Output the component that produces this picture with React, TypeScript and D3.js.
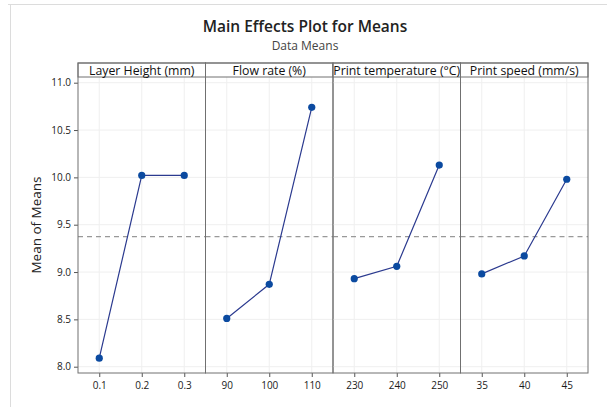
import React, { useEffect, useRef } from 'react';
import * as d3 from 'd3';

// factors and their levels
const factors = ['Layer Height (mm)', 'Flow rate (%)', 'Print temperature (°C)', 'Print speed (mm/s)'];
const levels = [
  ['0.1', '0.2', '0.3'],
  ['90', '100', '110'],
  ['230', '240', '250'],
  ['35', '40', '45'],
];
// mean of means per level
const layerHeight = [8.09, 10.02, 10.02];
const flowRate = [8.51, 8.87, 10.74];
const printTemp = [8.93, 9.06, 10.13];
const printSpeed = [8.98, 9.17, 9.98];
const grandMean = 9.375;
const yTicks = [8.0, 8.5, 9.0, 9.5, 10.0, 10.5, 11.0];

const series = [layerHeight, flowRate, printTemp, printSpeed];

function App() {
  const ref = useRef<SVGSVGElement>(null);

  useEffect(() => {
    const svg = d3.select(ref.current);
    svg.selectAll('*').remove();

    const W = 607, H = 407;
    const margin = { top: 63, right: 19, bottom: 34, left: 78 };
    const stripH = 14;
    const font = "'Open Sans', 'Noto Sans', sans-serif";

    // figure frame
    svg.append('rect').attr('width', W).attr('height', H).attr('fill', '#fff');
    svg.append('line').attr('x1', 8).attr('x2', W).attr('y1', 4.5).attr('y2', 4.5)
      .attr('stroke', '#dcdcdc');
    svg.append('line').attr('x1', 10.5).attr('x2', 10.5).attr('y1', 4).attr('y2', H)
      .attr('stroke', '#dcdcdc');

    // titles
    svg.append('text').attr('x', 305).attr('y', 32)
      .attr('text-anchor', 'middle').attr('font-family', font).attr('font-size', 15.5)
      .attr('font-weight', 600).attr('fill', '#222')
      .text('Main Effects Plot for Means');
    svg.append('text').attr('x', 305).attr('y', 50)
      .attr('text-anchor', 'middle').attr('font-family', font).attr('font-size', 12)
      .attr('fill', '#444')
      .text('Data Means');

    const x0 = margin.left, x1 = W - margin.right;
    const top = margin.top, plotTop = top + stripH, bottom = H - margin.bottom;

    const panel = d3.scaleBand().domain(factors).range([x0, x1]);
    const y = d3.scaleLinear().domain([8, 11]).range([366.7, 82.7]);

    // y axis label
    svg.append('text')
      .attr('transform', `translate(41,${(plotTop + bottom) / 2}) rotate(-90)`)
      .attr('text-anchor', 'middle').attr('font-family', font).attr('font-size', 13.5)
      .attr('fill', '#222')
      .text('Mean of Means');

    // y ticks
    const yAxis = svg.append('g')
      .attr('transform', `translate(${x0},0)`)
      .call(d3.axisLeft(y).tickValues(yTicks).tickFormat(d3.format('.1f')).tickSize(4).tickSizeOuter(0));
    yAxis.select('.domain').remove();
    yAxis.selectAll('line').attr('stroke', '#555');
    yAxis.selectAll('text').attr('font-family', font).attr('font-size', 10).attr('fill', '#1a1a1a');

    factors.forEach((f, i) => {
      const px = panel(f)!;
      const pw = panel.bandwidth();
      const x = d3.scalePoint().domain(levels[i]).range([px, px + pw]).padding(0.5);
      const g = svg.append('g');

      // grid
      g.selectAll('.hg').data(yTicks).join('line')
        .attr('x1', px).attr('x2', px + pw)
        .attr('y1', d => y(d)).attr('y2', d => y(d))
        .attr('stroke', '#efefef');
      g.selectAll('.vg').data(levels[i]).join('line')
        .attr('x1', d => x(d)!).attr('x2', d => x(d)!)
        .attr('y1', plotTop).attr('y2', bottom)
        .attr('stroke', '#efefef');

      // grand mean reference
      g.append('line')
        .attr('x1', px).attr('x2', px + pw)
        .attr('y1', y(grandMean)).attr('y2', y(grandMean))
        .attr('stroke', '#999').attr('stroke-width', 1.3).attr('stroke-dasharray', '5,4');

      // x axis
      const xa = g.append('g').attr('transform', `translate(0,${bottom})`)
        .call(d3.axisBottom(x).tickSize(4).tickSizeOuter(0));
      xa.select('.domain').remove();
      xa.selectAll('line').attr('stroke', '#555');
      xa.selectAll('text').attr('font-family', font).attr('font-size', 10).attr('fill', '#1a1a1a')
        .attr('dy', '0.9em');

      // line and points
      const pts = series[i].map((v, j) => [x(levels[i][j])!, y(v)] as [number, number]);
      g.append('path').attr('d', d3.line()(pts))
        .attr('fill', 'none').attr('stroke', '#2b3a8f').attr('stroke-width', 1.2);
      g.selectAll('circle').data(pts).join('circle')
        .attr('cx', d => d[0]).attr('cy', d => d[1]).attr('r', 3.6)
        .attr('fill', '#0b4aa0');

      // strip
      g.append('rect').attr('x', px).attr('y', top).attr('width', pw).attr('height', stripH)
        .attr('fill', '#fff').attr('stroke', '#707070');
      g.append('text').attr('x', px + pw / 2).attr('y', top + stripH - 2.5)
        .attr('text-anchor', 'middle').attr('font-family', font).attr('font-size', 12.3)
        .attr('fill', '#111')
        .text(f);

      // panel border
      g.append('rect').attr('x', px).attr('y', top).attr('width', pw).attr('height', bottom - top)
        .attr('fill', 'none').attr('stroke', '#707070');
    });
  }, []);

  return <svg ref={ref} width={607} height={407} style={{ display: 'block', position: 'absolute', left: 0, top: 0 }} />;
}

export default App;
